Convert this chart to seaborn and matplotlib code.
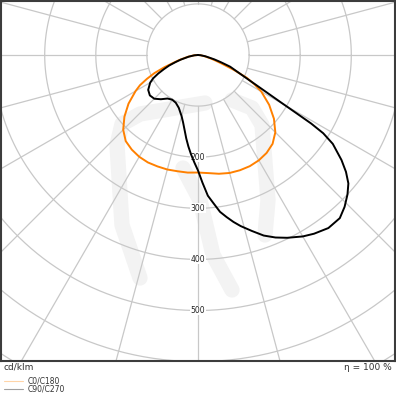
import numpy as np
import pandas as pd
import matplotlib
matplotlib.use("Agg")
import matplotlib.pyplot as plt
import seaborn as sns

# ---- data (cd/klm), gamma in degrees from nadir ----
g_c0 = [0, 5, 10, 15, 20, 25, 30, 35, 40, 45, 50, 55, 60, 62.5, 65, 67.5, 70, 72.5, 75, 80, 85, 90]
i_c0 = [230, 232, 236, 239, 240, 240, 238, 234, 227, 214, 194, 170, 143, 125, 105, 75, 50, 35, 25, 12, 4, 0]

g_c180 = [0, 5, 10, 15, 20, 25, 30, 35, 40, 45, 50, 55, 60, 62.5, 65, 67.5, 70, 72.5, 75, 80, 85, 90]
i_c180 = [230, 231, 231, 232, 232, 232, 230, 226, 220, 207, 188, 166, 141, 128, 110, 92, 70, 50, 38, 20, 8, 0]

g_c90 = [0, 2, 4, 6, 8, 10, 12, 14, 17, 20, 23, 26, 30, 33, 37, 41, 44, 47, 49.5, 51.7, 53.8, 56.6, 58,
         58.8, 59.4, 60.3, 61.8, 65, 70, 72.5, 75, 80, 85, 90]
i_c90 = [226, 250, 276, 292, 310, 322, 334, 345, 360, 376, 388, 398, 410, 417, 424, 423, 413, 400, 387, 369, 348, 316, 289,
         259, 224, 185, 145, 99, 67, 47, 33, 15, 5, 0]

g_c270 = [0, 2, 4, 6, 8, 10, 12.5, 15, 20, 25, 30, 35, 40, 45, 50, 55, 60, 62.5, 65, 67.5, 70, 72.5, 75, 80, 85, 90]
i_c270 = [226, 210, 195, 180, 165, 150, 135, 124, 110, 103, 101, 104, 113, 121, 123, 119, 108, 99, 86, 72, 60, 46, 35, 18, 7, 0]

ring_values = [100, 200, 300, 400, 500, 600, 700]
ring_labels = [200, 300, 400, 500]
unit_label = "cd/klm"
eta_label = "η = 100 %"
legend_names = ["C0/C180", "C90/C270"]

ORANGE = "#ff8000"
BLACK = "#000000"
GRID = "#c8c8c8"


def loop(g_left, i_left, g_right, i_right, name):
    gl = -np.array(g_left[::-1], float)
    il = np.array(i_left[::-1], float)
    gr = np.array(g_right[1:], float)
    ir = np.array(i_right[1:], float)
    g = np.concatenate([gl, gr])
    r = np.concatenate([il, ir])
    t = np.deg2rad(g)
    return pd.DataFrame({"x": r * np.sin(t), "y": -r * np.cos(t), "plane": name})


df = pd.concat([loop(g_c180, i_c180, g_c0, i_c0, legend_names[0]),
                loop(g_c270, i_c270, g_c90, i_c90, legend_names[1])], ignore_index=True)

sns.set_style("white")
plt.rcParams["font.family"] = ["DejaVu Sans"]

W = H = 396
fig = plt.figure(figsize=(W / 100, H / 100), dpi=100)
scale = 0.511  # px per cd/klm
cx, cy = 198, 55
ax_l, ax_r, ax_t, ax_b = 1, 395, 1, 361
ax = fig.add_axes([ax_l / W, (H - ax_b) / H, (ax_r - ax_l) / W, (ax_b - ax_t) / H])
ax.set_xlim((ax_l - cx) / scale, (ax_r - cx) / scale)
ax.set_ylim(-(ax_b - cy) / scale, (cy - ax_t) / scale)
ax.set_aspect("equal", adjustable="box")


def px2d(px, py):
    return (px - cx) / scale, (cy - py) / scale


# watermark (faint logo)
wm_paths = [
    [(205, 103), (140, 114), (122, 124), (117, 145), (122, 225), (140, 278)],
    [(232, 100), (252, 108), (262, 125), (268, 200), (265, 235)],
    [(183, 168), (200, 200), (213, 255), (232, 290)],
]
for p in wm_paths:
    xs, ys = zip(*[px2d(a, b) for a, b in p])
    ax.plot(xs, ys, color="#f3f3f3", lw=11, solid_capstyle="round", solid_joinstyle="round", zorder=0)

# grid
th = np.linspace(0, 2 * np.pi, 400)
for rv in ring_values:
    ax.plot(rv * np.cos(th), rv * np.sin(th), color=GRID, lw=0.9, zorder=1)
for a in range(0, 360, 15):
    t = np.deg2rad(a)
    ax.plot([100 * np.sin(t), 1200 * np.sin(t)], [-100 * np.cos(t), -1200 * np.cos(t)],
            color=GRID, lw=0.9, zorder=1)

for rv in ring_labels:
    ax.text(0, -rv, str(rv), ha="center", va="center", fontsize=5.5, color="#222222", zorder=2,
            bbox=dict(boxstyle="square,pad=0.05", fc="white", ec="none"))

# curves
sns.lineplot(data=df, x="x", y="y", hue="plane", estimator=None, sort=False,
             palette={legend_names[0]: ORANGE, legend_names[1]: BLACK}, lw=1.4, legend=False, ax=ax, zorder=3)

ax.set_xlabel("")
ax.set_ylabel("")
ax.set_xticks([])
ax.set_yticks([])
for s in ax.spines.values():
    s.set_visible(True)
    s.set_color("#3c3c3c")
    s.set_linewidth(1.5)

fig.text(4 / W, 1 - 367 / H, unit_label, ha="left", va="center", fontsize=6.5, color="#333333")
fig.text(392 / W, 1 - 367 / H, eta_label, ha="right", va="center", fontsize=6.5, color="#333333")

for k, (nm, col) in enumerate(zip(legend_names, ["#ffd5a8", "#a0a0a0"])):
    yy = 1 - (381 + 8 * k) / H
    fig.add_artist(plt.Line2D([4 / W, 23 / W], [yy, yy], color=col, lw=0.8))
    fig.text(28 / W, yy, nm, ha="left", va="center", fontsize=5.5, color="#333333")

fig.savefig("out.png", dpi=100)
